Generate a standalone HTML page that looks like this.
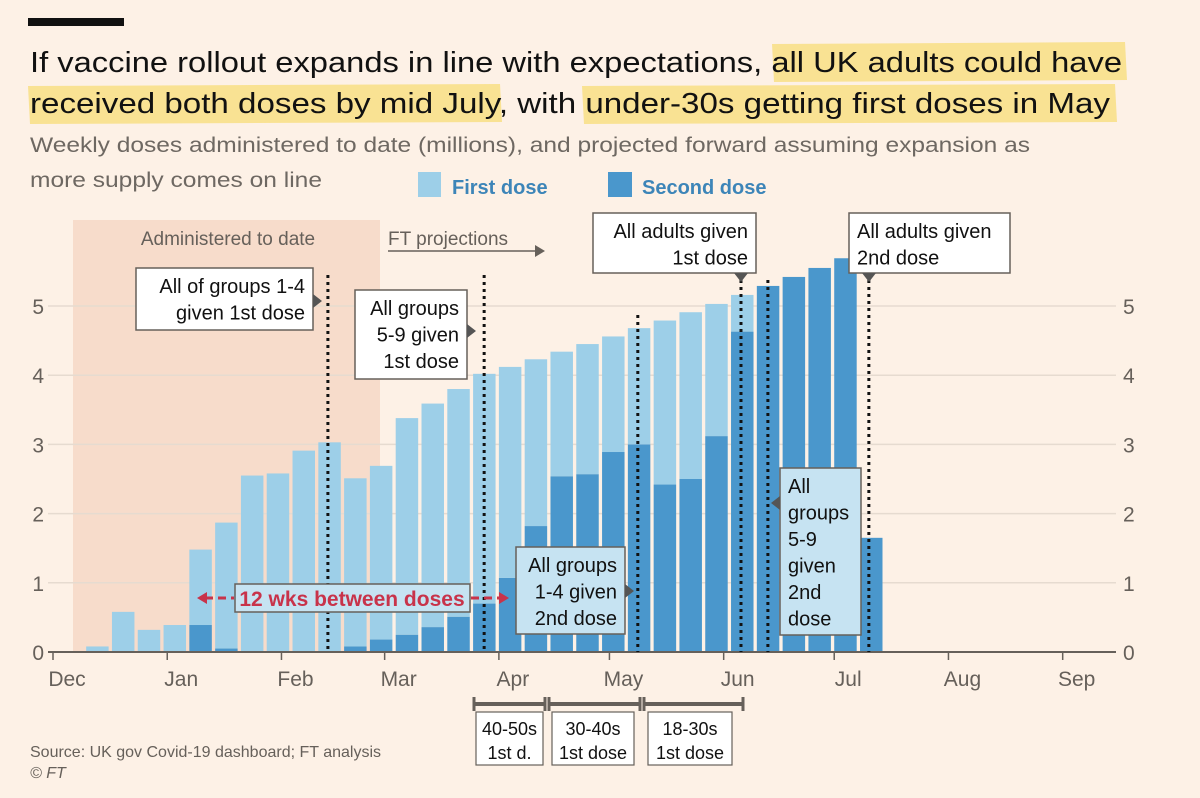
<!DOCTYPE html>
<html><head><meta charset="utf-8">
<style>
html,body{margin:0;padding:0;background:#fdf1e6;}
svg{display:block;font-family:"Liberation Sans",sans-serif;}
</style></head>
<body>
<svg id="chart" width="1200" height="798" viewBox="0 0 1200 798">
<rect x="0" y="0" width="1200" height="798" fill="#fdf1e6"/>
<rect x="28" y="18" width="96" height="8" fill="#111"/>
<!-- highlights -->
<path d="M772 44 L1125 42 L1127 80 L774 82 Z" fill="#f8e08a" opacity="0.9"/>
<path d="M28 86 L500 84 L502 122 L30 124 Z" fill="#f8e08a" opacity="0.9"/>
<path d="M582 86 L1115 84 L1117 122 L584 124 Z" fill="#f8e08a" opacity="0.9"/>
<text x="30" y="72" font-size="29" fill="#111" textLength="1092" lengthAdjust="spacingAndGlyphs">If vaccine rollout expands in line with expectations, all UK adults could have</text>
<text x="30" y="113" font-size="29" fill="#111" textLength="1080" lengthAdjust="spacingAndGlyphs">received both doses by mid July, with under-30s getting first doses in May</text>
<text x="30" y="152" font-size="21" fill="#6e6862" textLength="1000" lengthAdjust="spacingAndGlyphs">Weekly doses administered to date (millions), and projected forward assuming expansion as</text>
<text x="30" y="187" font-size="21" fill="#6e6862" textLength="292" lengthAdjust="spacingAndGlyphs">more supply comes on line</text>
<rect x="418" y="172" width="23" height="25" fill="#9dcfe8"/>
<text x="452" y="194" font-size="20" font-weight="bold" fill="#3d85b8">First dose</text>
<rect x="608" y="172" width="24" height="25" fill="#4a97cc"/>
<text x="642" y="194" font-size="20" font-weight="bold" fill="#3d85b8">Second dose</text>
<rect x="73" y="220" width="307" height="432" fill="#f7dccb"/>
<g id="grid"></g>
<g id="bars"></g>
<g id="axes"></g>
<g id="annot"></g>
<text x="30" y="757" font-size="16" fill="#66605a">Source: UK gov Covid-19 dashboard; FT analysis</text>
<text x="30" y="778" font-size="16" fill="#66605a" font-style="italic">© FT</text>
</svg>
<script>
const firstDose = [0.08,0.58,0.32,0.39,1.09,1.82,2.55,2.58,2.91,3.02,2.43,2.51,3.13,3.23,3.29,3.32,3.05,2.41,1.80,1.88,1.67,1.68,2.37,2.41,1.91,0.53,0,0,0,0,0];
const secondDose = [0,0,0,0,0.39,0.05,0,0,0,0.01,0.08,0.18,0.25,0.36,0.51,0.70,1.07,1.82,2.54,2.57,2.89,3.00,2.42,2.50,3.12,4.63,5.29,5.42,5.55,5.69,1.65];
const yTicks = [0,1,2,3,4,5];
const monthLabels = ["Dec","Jan","Feb","Mar","Apr","May","Jun","Jul","Aug","Sep"];
const monthDays = [0,31,62,90,121,151,182,212,243,274];
const markerDays = [74.6,117,158.7,186.7,194,221.4];

const NS="http://www.w3.org/2000/svg";
const X0=53, PX_DAY=3.685, Y0=652, PX_UNIT=69.2;
const xS=d=>X0+d*PX_DAY;
const yS=v=>Y0-v*PX_UNIT;
function mk(tag,attrs,parent,text){const e=document.createElementNS(NS,tag);for(const k in attrs)e.setAttribute(k,attrs[k]);if(text!==undefined)e.textContent=text;parent.appendChild(e);return e;}
const grid=document.getElementById('grid'),bars=document.getElementById('bars'),axes=document.getElementById('axes'),ann=document.getElementById('annot');

yTicks.forEach(t=>{
  if(t>0){const l=mk('line',{x1:48,x2:1116,y1:yS(t),y2:yS(t),stroke:'#e6dbd0','stroke-width':1.5},grid);
  
  }
  const a=mk('text',{x:44,y:yS(t)+8,'font-size':21,fill:'#66605a','text-anchor':'end'},axes,String(t));
  
  
  const b=mk('text',{x:1123,y:yS(t)+8,'font-size':21,fill:'#66605a'},axes,String(t));
  
  
});

const BW=6.1*PX_DAY;
firstDose.forEach((f,i)=>{
  const s=secondDose[i], x=xS(9+7*i);
  if(s>0){const r=mk('rect',{x:x,y:yS(s),width:BW,height:s*PX_UNIT,fill:'#4a97cc'},bars);
  
  }
  if(f>0){const r=mk('rect',{x:x,y:yS(s+f),width:BW,height:f*PX_UNIT,fill:'#9dcfe8'},bars);
  
  }
});

const ax=mk('line',{x1:48,x2:1116,y1:Y0,y2:Y0,stroke:'#66605a','stroke-width':2},axes);


monthLabels.forEach((m,i)=>{
  const x=xS(monthDays[i]);
  const t=mk('line',{x1:x,x2:x,y1:Y0,y2:Y0+8,stroke:'#66605a','stroke-width':1.5},axes);
  
  
  const l=mk('text',{x:x+14,y:686,'font-size':21,fill:'#66605a','text-anchor':'middle'},axes,m);
  
  
});

const markerTops=[275,275,315,280,280,280];
markerDays.forEach((d,i)=>{
  const x=xS(d);
  const l=mk('line',{x1:x,x2:x,y1:markerTops[i],y2:Y0,stroke:'#111','stroke-width':3,'stroke-dasharray':'3 4'},ann);
  
  
});

function box(x,y,w,h,lines,anchor,name,fill){
  const g=mk('g',{},ann);
  
  
  mk('rect',{x:x,y:y,width:w,height:h,fill:fill||'#fff',stroke:'#66605a','stroke-width':1.5},g);
  lines.forEach((t,k)=>{
    const tx=anchor==='end'?x+w-8:x+8;
    mk('text',{x:tx,y:y+25+k*26.5,'font-size':20,fill:'#111','text-anchor':anchor},g,t);
  });
}
box(136,268,177,62,["All of groups 1-4","given 1st dose"],'end','annotation-groups-1-4-first');
box(355,290,112,89,["All groups","5-9 given","1st dose"],'end','annotation-groups-5-9-first');
box(593,213,163,60,["All adults given","1st dose"],'end','annotation-adults-first');
box(849,213,161,60,["All adults given","2nd dose"],'start','annotation-adults-second');
box(516,547,109,87,["All groups","1-4 given","2nd dose"],'end','annotation-groups-1-4-second','#c6e3f2');
box(780,468,81,167,["All","groups","5-9","given","2nd","dose"],'start','annotation-groups-5-9-second','#c6e3f2');

const arrows=[[313,294,313,308,322,301],[467,324,467,338,476,331],[734,273,748,273,741,282],[862,273,876,273,869,282],[625,584,625,598,634,591],[780,496,780,510,771,503]];
arrows.forEach((a,i)=>{
  const p=mk('polygon',{points:a[0]+','+a[1]+' '+a[2]+','+a[3]+' '+a[4]+','+a[5],fill:'#555'},ann);
  
  
});

const adm=mk('text',{x:228,y:245,'font-size':19,fill:'#66605a','text-anchor':'middle'},ann,'Administered to date');


const ftp=mk('text',{x:388,y:245,'font-size':19,fill:'#66605a'},ann,'FT projections');


const ftl=mk('line',{x1:388,x2:536,y1:251,y2:251,stroke:'#66605a','stroke-width':1.5},ann);


const fth=mk('polygon',{points:'535,245 545,251 535,257',fill:'#66605a'},ann);



const wg=mk('g',{},ann);


mk('line',{x1:205,x2:234,y1:598,y2:598,stroke:'#c8334a','stroke-width':3,'stroke-dasharray':'8 5'},wg);
mk('polygon',{points:'197,598 207,592 207,604',fill:'#c8334a'},wg);
mk('line',{x1:471,x2:500,y1:598,y2:598,stroke:'#c8334a','stroke-width':3,'stroke-dasharray':'8 5'},wg);
mk('polygon',{points:'509,598 499,592 499,604',fill:'#c8334a'},wg);
mk('rect',{x:235,y:584,width:235,height:28,fill:'#c6e3f2',stroke:'#66605a','stroke-width':1.5},wg);
mk('text',{x:352,y:606,'font-size':21,'font-weight':'bold',fill:'#c8334a','text-anchor':'middle'},wg,'12 wks between doses');

const brackets=[[474,545,["40-50s","1st d."],476,543],[549,640,["30-40s","1st dose"],552,634],[644,743,["18-30s","1st dose"],648,732]];
brackets.forEach((b,i)=>{
  const g=mk('g',{},ann);
  
  
  mk('line',{x1:b[0],x2:b[1],y1:704,y2:704,stroke:'#66605a','stroke-width':4},g);
  mk('line',{x1:b[0],x2:b[0],y1:697,y2:711,stroke:'#66605a','stroke-width':3},g);
  mk('line',{x1:b[1],x2:b[1],y1:697,y2:711,stroke:'#66605a','stroke-width':3},g);
  mk('rect',{x:b[3],y:712,width:b[4]-b[3],height:53,fill:'#fff',stroke:'#66605a','stroke-width':1.2},g);
  b[2].forEach((t,k)=>mk('text',{x:(b[3]+b[4])/2,y:735+k*24,'font-size':18,fill:'#111','text-anchor':'middle'},g,t));
});
</script>
</body></html>
